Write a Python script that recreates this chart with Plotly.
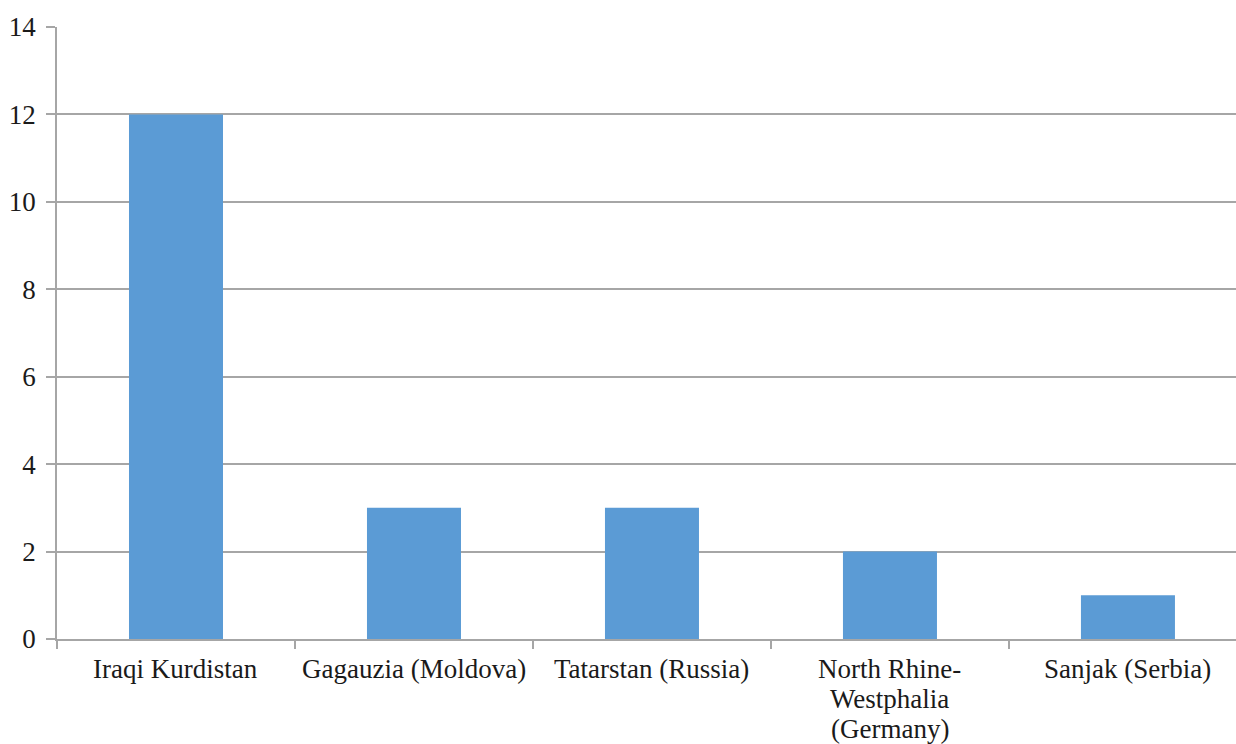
import plotly.graph_objects as go

# Regions and counts (line breaks mark the wrapped category labels)
regions = [
    "Iraqi Kurdistan",
    "Gagauzia (Moldova)",
    "Tatarstan (Russia)",
    "North Rhine-\nWestphalia\n(Germany)",
    "Sanjak (Serbia)",
]
counts = [12, 3, 3, 2, 1]
y_ticks = [0, 2, 4, 6, 8, 10, 12, 14]

font_family = "Liberation Serif"
font_size = 27
text_color = "#1a1a1a"
grid_color = "#A6A6A6"
line_step = 30  # tight line spacing for wrapped category labels

fig = go.Figure(
    go.Bar(
        x=list(range(len(regions))),
        y=counts,
        width=0.395,
        marker=dict(color="#5B9BD5", line=dict(width=0)),
    )
)

# Category labels under the axis, one annotation per text line
for i, label in enumerate(regions):
    for j, line in enumerate(label.split("\n")):
        fig.add_annotation(
            x=i,
            y=0,
            xref="x",
            yref="y",
            text=line,
            showarrow=False,
            xanchor="center",
            yanchor="top",
            yshift=-(13 + line_step * j),
            font=dict(family=font_family, size=font_size, color=text_color),
        )

fig.update_layout(
    width=1236,
    height=744,
    margin=dict(l=57, r=0, t=27, b=105),
    paper_bgcolor="white",
    plot_bgcolor="white",
    showlegend=False,
    font=dict(family=font_family, size=font_size, color=text_color),
)

fig.update_xaxes(
    type="linear",
    range=[-0.5, 4.454],
    tickvals=[k - 0.5 for k in range(len(regions) + 1)],
    showticklabels=False,
    showgrid=False,
    showline=True,
    linecolor=grid_color,
    linewidth=1.5,
    ticks="outside",
    ticklen=8,
    tickcolor=grid_color,
    tickwidth=1.5,
    zeroline=False,
)

fig.update_yaxes(
    range=[0, 14],
    tickvals=y_ticks,
    showgrid=True,
    gridcolor=grid_color,
    gridwidth=1.5,
    showline=True,
    linecolor=grid_color,
    linewidth=1.5,
    ticks="outside",
    ticklen=9,
    tickcolor=grid_color,
    tickwidth=1.5,
    ticklabelstandoff=5,
    zeroline=False,
    tickfont=dict(family=font_family, size=font_size, color=text_color),
)

fig.write_html("out.html")
